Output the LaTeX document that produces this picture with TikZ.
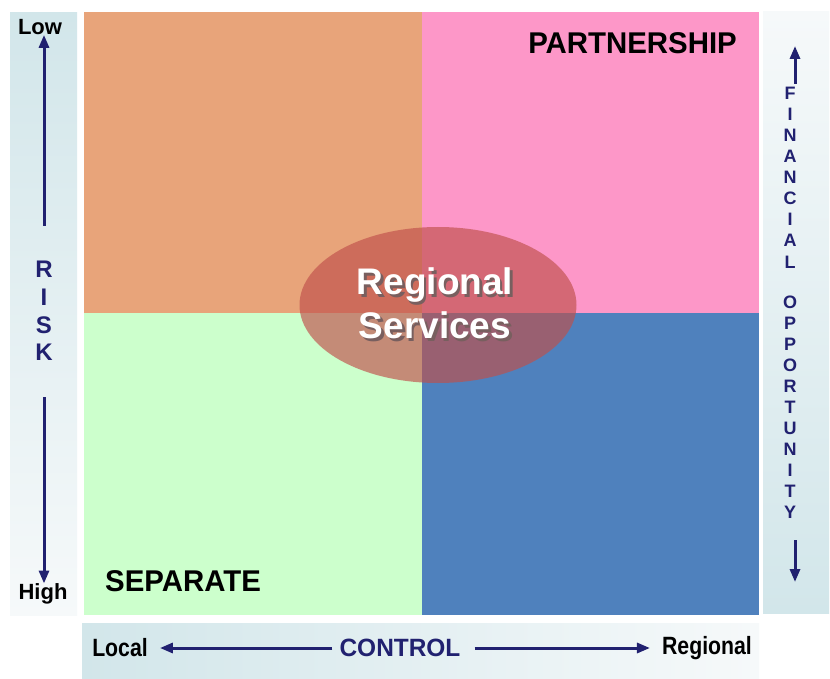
\documentclass[tikz,border=0pt]{standalone}
\usepackage{fontspec}
\setmainfont{Liberation Sans}
\usetikzlibrary{arrows.meta,shapes.geometric}
\definecolor{navy}{RGB}{33,33,112}
\definecolor{qorange}{RGB}{232,164,122}
\definecolor{qpink}{RGB}{253,151,200}
\definecolor{qgreen}{RGB}{204,255,204}
\definecolor{qblue}{RGB}{79,129,189}
\definecolor{ovalred}{RGB}{192,80,75}
\definecolor{stripblue}{RGB}{210,230,234}
\definecolor{stripwhite}{RGB}{246,249,250}
\definecolor{textshadow}{RGB}{120,95,95}
% white lettering with a soft offset shadow behind it
\newcommand\shadowed[1]{\rlap{\kern2.5pt\raisebox{-2.5pt}{\textcolor{textshadow}{#1}}}#1}
\tikzset{
  axisarrow/.style={draw=navy, line width=3pt, -{Triangle[length=13pt,width=10pt]}},
  endlabel/.style={font=\bfseries\fontsize{22}{22}\selectfont, text=black, inner sep=0pt},
  axisletter/.style={font=\bfseries\fontsize{24}{24}\selectfont, text=navy, inner sep=0pt},
  sideletter/.style={font=\bfseries\fontsize{18}{18}\selectfont, text=navy, inner sep=0pt},
  narrowlabel/.style={font=\bfseries\fontsize{25}{25}\selectfont, inner sep=0pt, xscale=0.85},
  cornerlabel/.style={font=\bfseries\fontsize{30}{30}\selectfont, text=black, inner sep=0pt, xscale=0.98},
  ovallabel/.style={font=\bfseries\fontsize{37}{44}\selectfont, align=center},
}
\begin{document}
\begin{tikzpicture}[x=1pt,y=-1pt]
\useasboundingbox (0,0) rectangle (830,679);
\fill[white] (0,0) rectangle (830,679);

% side and bottom strips
\shade[top color=stripblue, bottom color=stripwhite] (10,13) rectangle (77,615);
\shade[top color=stripwhite, bottom color=stripblue] (763,12) rectangle (829,613);
\shade[left color=stripblue, right color=stripwhite] (82,623) rectangle (759,679);

% quadrants
\fill[qorange] (84,12) rectangle (422,313);
\fill[qpink]   (422,12) rectangle (759,313);
\fill[qgreen]  (84,313) rectangle (422,615);
\fill[qblue]   (422,313) rectangle (759,615);

% central oval with shadowed title
\node[ellipse, fill=ovalred, fill opacity=0.66, minimum width=277pt, minimum height=156pt, inner sep=0pt] (oval) at (438,305) {};
\node[ovallabel, text=white] (ovaltext) at (435,305) {\shadowed{Regional}\\\shadowed{Services}};

% quadrant names
\node[cornerlabel, anchor=east] (partner) at (737,43) {PARTNERSHIP};
\node[cornerlabel, anchor=west] (separate) at (105,581) {SEPARATE};

% risk axis
\node[endlabel] (low) at (40,27) {Low};
\node[endlabel] (high) at (43,594) {High};
\node[axisletter] (riskR) at (44,269) {R};
\node[axisletter] (riskI) at (44,297) {I};
\node[axisletter] (riskS) at (44,325) {S};
\node[axisletter] (riskK) at (44,352) {K};
\coordinate (riskup) at (44,226);
\coordinate (riskdown) at (44,397);
\draw[axisarrow] (riskup) -- (riskup |- low.south);
\draw[axisarrow] (riskdown) -- (riskdown |- high.north);

% financial opportunity axis
\foreach \l/\y [count=\i] in {F/93,I/114,N/135,A/156,N/177,C/198,I/219,A/240,L/262,
                              O/302,P/323,P/344,O/365,R/386,T/407,U/428,N/449,I/470,T/491,Y/512}
  \node[sideletter] (fin\i) at (790,\y) {\l};
\coordinate (finup) at (795,84);
\coordinate (fintop) at (795,46);
\coordinate (findown) at (795,540);
\coordinate (finbottom) at (795,582);
\draw[axisarrow] (finup) -- (fintop);
\draw[axisarrow] (findown) -- (finbottom);

% control axis
\node[narrowlabel, text=black] (local) at (120,648) {Local};
\node[narrowlabel, text=navy, xscale=1.15] (control) at (400,648) {CONTROL};
\node[narrowlabel, text=black] (regional) at (707,648) {Regional};
\draw[axisarrow] (control.west) ++(-7,0) -- ([xshift=12pt]local.east);
\draw[axisarrow] (control.east) ++(14,0) -- ([xshift=-12pt]regional.west);
\end{tikzpicture}
\end{document}
